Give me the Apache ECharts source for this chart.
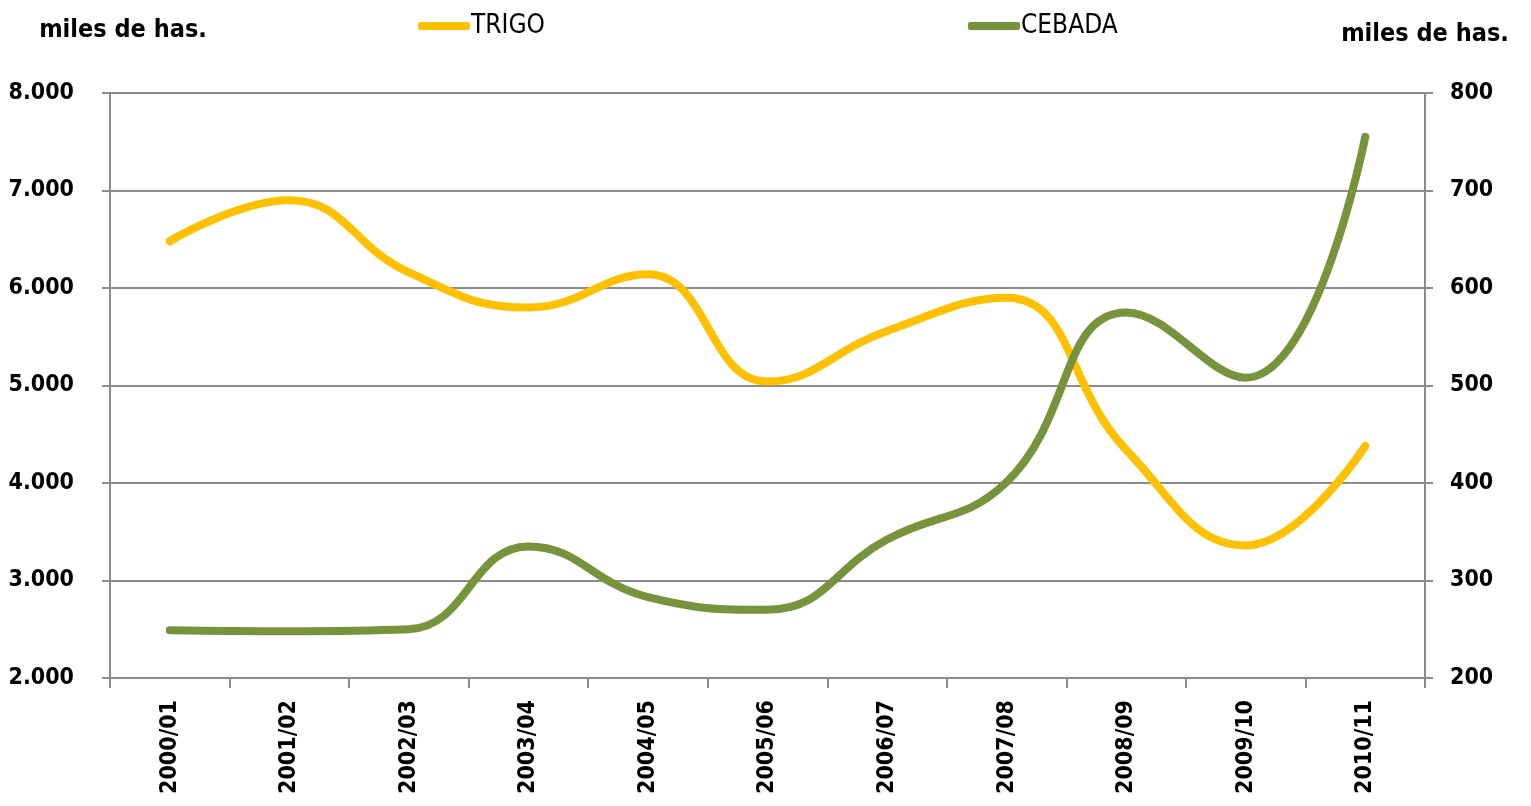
<!DOCTYPE html>
<html><head><meta charset="utf-8">
<script src="https://cdn.jsdelivr.net/npm/echarts@6/dist/echarts.min.js"></script>
<style>html,body{margin:0;padding:0;background:#fff}#c{width:1531px;height:806px}</style>
</head><body><div id="c"></div>
<script>
const categories = ['2000/01','2001/02','2002/03','2003/04','2004/05','2005/06','2006/07','2007/08','2008/09','2009/10','2010/11'];
const trigo = [6480, 6900, 6160, 5800, 6140, 5040, 5560, 5900, 4340, 3360, 4380];
const cebada = [249, 248, 250, 335, 283, 270, 342, 401, 575, 508, 755];
const leftTicks = {min: 2000, max: 8000, interval: 1000};
const rightTicks = {min: 200, max: 800, interval: 100};
const FONT = '"DejaVu Sans Condensed", "DejaVu Sans", sans-serif';
const fmt = v => { const s = String(v); return s.length > 3 ? s.slice(0, s.length-3) + '.' + s.slice(-3) : s; };
const chart = echarts.init(document.getElementById('c'));
const axisGray = '#8c8c8c';
chart.setOption({
  animation: false,
  backgroundColor: '#fff',
  grid: {left: 110, right: 106, top: 93, bottom: 128, containLabel: false},
  legend: [
    {data: ['TRIGO'], left: 413, top: 8, icon: 'roundRect', itemWidth: 52, itemHeight: 8, itemGap: 5,
     textStyle: {fontFamily: FONT, fontSize: 26, color: '#000', padding: [0,0,0,-4]}},
    {data: ['CEBADA'], left: 963, top: 8, icon: 'roundRect', itemWidth: 52, itemHeight: 8, itemGap: 5,
     textStyle: {fontFamily: FONT, fontSize: 26, color: '#000', padding: [0,0,0,-4]}}
  ],
  xAxis: {
    type: 'category', data: categories, boundaryGap: true,
    axisLine: {lineStyle: {color: axisGray, width: 2}},
    axisTick: {show: true, length: 10, lineStyle: {color: axisGray, width: 2}},
    axisLabel: {rotate: 90, margin: 22, fontFamily: FONT, fontWeight: 'bold', fontSize: 23, color: '#000'}
  },
  yAxis: [
    {type: 'value', min: leftTicks.min, max: leftTicks.max, interval: leftTicks.interval, position: 'left',
     name: 'miles de has.', nameLocation: 'end', nameGap: 50,
     nameTextStyle: {fontFamily: FONT, fontWeight: 'bold', fontSize: 25, color: '#000', padding: [0,0,0,26]},
     axisLine: {show: true, lineStyle: {color: axisGray, width: 2}},
     axisTick: {show: true, length: 8, lineStyle: {color: axisGray, width: 2}},
     axisLabel: {formatter: fmt, margin: 36, fontFamily: FONT, fontWeight: 'bold', fontSize: 23, color: '#000'},
     splitLine: {show: true, lineStyle: {color: axisGray, width: 2}}},
    {type: 'value', min: rightTicks.min, max: rightTicks.max, interval: rightTicks.interval, position: 'right',
     name: 'miles de has.', nameLocation: 'end', nameGap: 46,
     nameTextStyle: {fontFamily: FONT, fontWeight: 'bold', fontSize: 25, color: '#000'},
     axisLine: {show: true, lineStyle: {color: axisGray, width: 2}},
     axisTick: {show: true, length: 8, lineStyle: {color: axisGray, width: 2}},
     axisLabel: {margin: 25, fontFamily: FONT, fontWeight: 'bold', fontSize: 23, color: '#000'},
     splitLine: {show: false}}
  ],
  series: [
    {name: 'TRIGO', type: 'line', yAxisIndex: 0, data: trigo, smooth: 0.45, showSymbol: false,
     itemStyle: {color: '#FFC000'}, lineStyle: {color: '#FFC000', width: 8, cap: 'round'}},
    {name: 'CEBADA', type: 'line', yAxisIndex: 1, data: cebada, smooth: 0.45, showSymbol: false,
     itemStyle: {color: '#77933C'}, lineStyle: {color: '#77933C', width: 8, cap: 'round'}}
  ]
});
</script></body></html>
